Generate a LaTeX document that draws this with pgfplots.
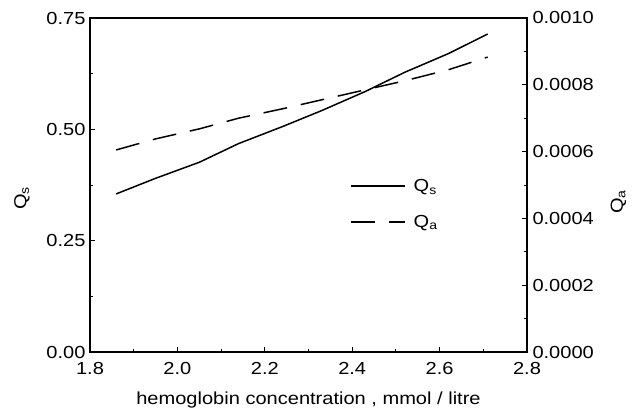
\documentclass[border=0pt]{standalone}
\usepackage{pgfplots}
\pgfplotsset{compat=1.18}
\usepackage{fontspec}
\setmainfont{Liberation Sans}[FakeStretch=1.15]

% Q_s (left axis) and Q_a (right axis) against hemoglobin concentration
\pgfplotstableread{
x     qs
1.86  0.355
1.95  0.390
2.05  0.426
2.14  0.468
2.24  0.506
2.33  0.542
2.43  0.585
2.52  0.628
2.62  0.670
2.71  0.714
}\qsdata
\pgfplotstableread{
x     qa
1.86  0.000605
1.95  0.000638
2.05  0.000668
2.14  0.000700
2.24  0.000728
2.33  0.000755
2.43  0.000785
2.52  0.000812
2.62  0.000845
2.71  0.000883
}\qadata

\pgfplotsset{
  common/.style={
    scale only axis,
    width=437bp, height=334bp,
    xmin=1.8, xmax=2.8,
    /pgf/number format/assume math mode=true,
    tick label style={font=\fontsize{17.5}{20}\selectfont},
    label style={font=\fontsize{17.5}{20}\selectfont},
    tick align=inside,
    major tick length=5bp,
    minor tick length=3bp,
    every tick/.style={black, line width=1pt},
    axis line style={line width=2pt},
    minor tick num=1,
  },
}

\begin{document}
\begin{tikzpicture}
\useasboundingbox (-90bp,-56bp) rectangle (549bp,352bp);
\begin{axis}[
  common,
  ymin=0, ymax=0.75,
  xtick={1.8,2.0,...,2.8},
  ytick={0,0.25,0.5,0.75},
  xtick pos=bottom, ytick pos=left,
  xticklabel style={yshift=-7bp, /pgf/number format/.cd, fixed, fixed zerofill, precision=1},
  yticklabel style={xshift=-1bp, /pgf/number format/.cd, fixed, fixed zerofill, precision=2},
  xlabel={hemoglobin concentration , mmol / litre},
  xlabel style={yshift=-10bp},
  ylabel={Q\textsubscript{s}},
  ylabel style={at={(ticklabel cs:0.46,10bp)}},
]
\addplot[black, line width=1.5pt] table[x=x, y=qs] {\qsdata};
\end{axis}
\begin{axis}[
  common,
  ymin=0, ymax=0.001,
  axis x line=none,
  axis y line*=right,
  ytick={0,0.0002,...,0.001},
  scaled y ticks=false,
  yticklabel style={xshift=2bp, /pgf/number format/.cd, fixed, fixed zerofill, precision=4},
  ylabel={Q\textsubscript{a}},
  ylabel style={at={(ticklabel cs:0.45,10bp)}},
  legend style={draw=none, fill=none, inner sep=0pt,
    at={(0.595,0.443)}, anchor=west,
    font=\fontsize{17.5}{20}\selectfont, row sep=18bp,
    /tikz/every odd column/.append style={column sep=6bp}},
  legend cell align=left,
  legend image code/.code={\draw[#1] (0bp,0bp) -- (54bp,0bp);},
]
\addlegendimage{black, line width=1.5pt}
\addlegendentry{Q\textsubscript{s}}
\addplot[black, line width=1.5pt, dash pattern=on 24bp off 14bp] table[x=x, y=qa] {\qadata};
\addlegendentry{Q\textsubscript{a}}
\end{axis}
\end{tikzpicture}
\end{document}
